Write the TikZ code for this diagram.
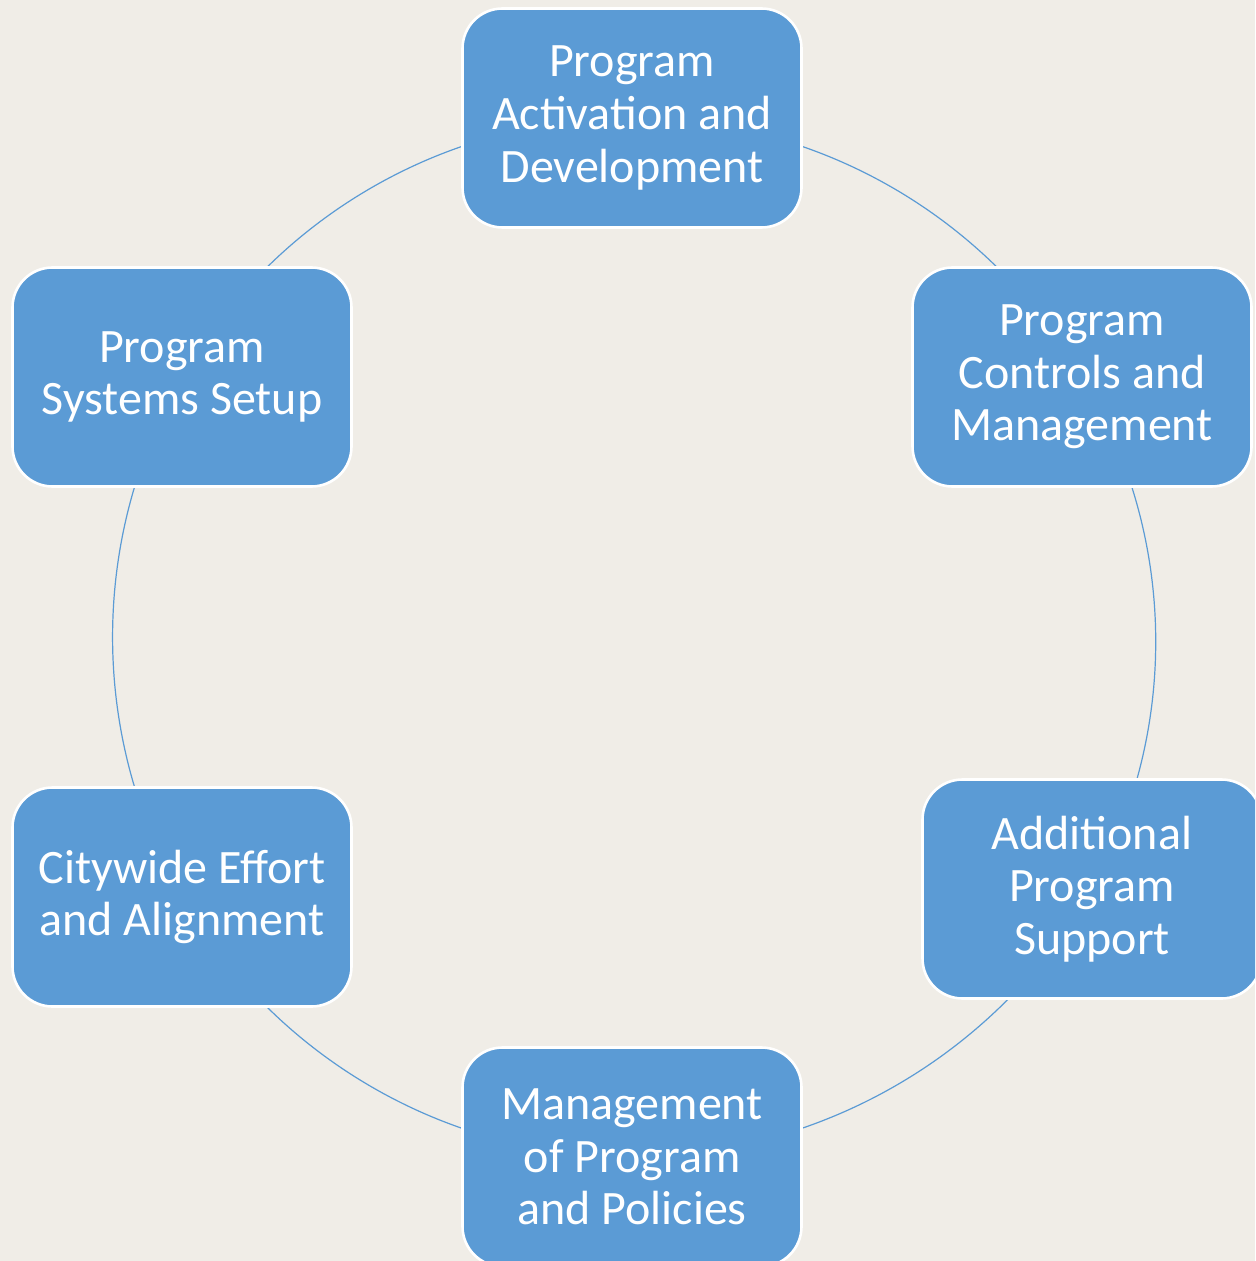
\documentclass[tikz,border=0pt]{standalone}
\usepackage{fontspec}
\setmainfont{Carlito}
\usepackage{tikz}
\usepackage{xcolor}
\usetikzlibrary{backgrounds}

\definecolor{boxblue}{HTML}{5B9BD5}
\definecolor{paper}{HTML}{F0EDE7}

\begin{document}
\begin{tikzpicture}[x=0.5pt,y=-0.5pt,
    stage/.style={draw=white,line width=1.3pt,fill=boxblue,rounded corners=20pt,
        minimum width=169.5pt,minimum height=109.5pt,align=center,text=white,
        font=\fontsize{24}{26.3}\selectfont},
    link/.style={draw=boxblue,line width=0.6pt,bend left=30,looseness=0.913}]
    \useasboundingbox (0,0) rectangle (1255,1261);
    \clip (0,0) rectangle (1255,1261);
    % the six stages
    \node[stage] (act) at (632,118) {Program\\Activation and\\Development};
    \node[stage] (ctl) at (1082,377) {Program\\Controls and\\Management};
    \node[stage] (add) at (1092,889) {Additional\\Program\\Support};
    \node[stage] (pol) at (632,1157) {Management\\of Program\\and Policies};
    \node[stage] (city) at (182,897) {Citywide Effort\\and Alignment};
    \node[stage] (sys) at (182,377) {Program\\Systems Setup};
    % ring behind the boxes
    \begin{scope}[on background layer]
        \fill[paper] (0,0) rectangle (1255,1261);
        \draw[link] (act.center) to (ctl.center);
        \draw[link] (ctl.center) to (add.center);
        \draw[link] (add.center) to (pol.center);
        \draw[link] (pol.center) to (city.center);
        \draw[link] (city.center) to (sys.center);
        \draw[link] (sys.center) to (act.center);
    \end{scope}
\end{tikzpicture}
\end{document}
